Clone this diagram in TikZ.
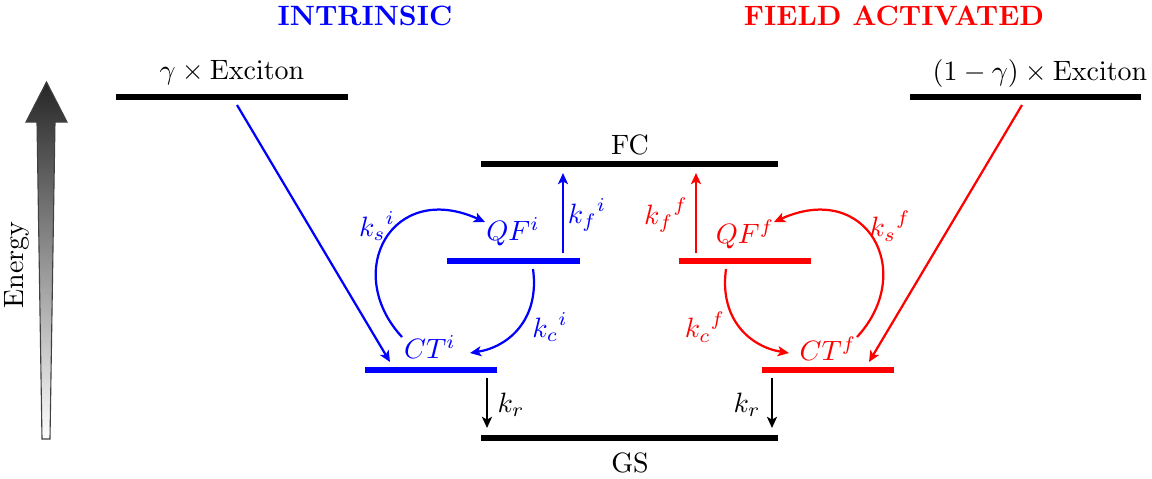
\documentclass[tikz,border=0pt]{standalone}
\usetikzlibrary{arrows.meta}
\begin{document}
\begin{tikzpicture}[x=0.3575pt,y=-0.3575pt,
  level/.style={line width=2pt},
  arr/.style={thick,-{Stealth[length=4pt,width=3.6pt,inset=1pt]}},
  lbl/.style={inner sep=0pt}]
\useasboundingbox (0,0) rectangle (1152,478);
% energy axis
\shade[top color=black!85, bottom color=white, draw=black!75, line width=0.4pt]
  (42,439) -- (50,439) -- (55,122) -- (67,122) -- (46.5,82) -- (26,122) -- (37,122) -- cycle;
\node[rotate=90] (energy) at (17,265) {Energy};
% titles
\node[text=blue, font=\bfseries] (intr) at (365,16) {INTRINSIC};
\node[text=red, font=\bfseries] (field) at (894,16) {FIELD ACTIVATED};
% levels
\coordinate (exLa) at (116,97); \coordinate (exLb) at (348,97);
\coordinate (exRa) at (910,97); \coordinate (exRb) at (1141,97);
\coordinate (fca) at (481,164); \coordinate (fcb) at (778,164);
\coordinate (gsa) at (481,438); \coordinate (gsb) at (778,438);
\coordinate (qfia) at (447,261); \coordinate (qfib) at (580,261);
\coordinate (ctia) at (365,370); \coordinate (ctib) at (497,370);
\coordinate (qffa) at (679,261); \coordinate (qffb) at (811,261);
\coordinate (ctfa) at (762,370); \coordinate (ctfb) at (894,370);
\draw[level] (exLa) -- (exLb);
\draw[level] (exRa) -- (exRb);
\draw[level] (fca) -- (fcb);
\draw[level] (gsa) -- (gsb);
\draw[level, blue] (qfia) -- (qfib);
\draw[level, blue] (ctia) -- (ctib);
\draw[level, red] (qffa) -- (qffb);
\draw[level, red] (ctfa) -- (ctfb);
% level labels
\node (exL) at (232,73) {$\gamma \times \mathrm{Exciton}$};
\node (exR) at (1040,73) {$(1-\gamma) \times \mathrm{Exciton}$};
\node (fc) at (630,145) {FC};
\node (gs) at (630,463) {GS};
\node[text=blue] (qfi) at (513,232) {$QF^i$};
\node[text=blue] (cti) at (430,347) {$CT^i$};
\node[text=red] (qff) at (745,234) {$QF^f$};
\node[text=red] (ctf) at (828,349) {$CT^f$};
% rate labels
\node[text=blue] (ksi) at (377,226) {${k_s}^i$};
\node[text=blue] (kfi) at (587,215) {${k_f}^i$};
\node[text=blue] (kci) at (550,327) {${k_c}^i$};
\node[text=red] (ksf) at (890,226) {${k_s}^f$};
\node[text=red] (kff) at (666,215) {${k_f}^f$};
\node[text=red] (kcf) at (705,327) {${k_c}^f$};
\node (krl) at (511,405) {$k_r$};
\node (krr) at (747,405) {$k_r$};
% connector end points
\coordinate (bA) at (237,105); \coordinate (bB) at (390,362);
\coordinate (rA) at (1022,105); \coordinate (rB) at (869,362);
\coordinate (kfiA) at (563,253); \coordinate (kfiB) at (563,173);
\coordinate (kffA) at (696,253); \coordinate (kffB) at (696,173);
\coordinate (ksiA) at (402,337); \coordinate (ksiB) at (485,222);
\coordinate (kciA) at (533,269); \coordinate (kciB) at (470,353);
\coordinate (ksfA) at (857,337); \coordinate (ksfB) at (774,222);
\coordinate (kcfA) at (726,269); \coordinate (kcfB) at (789,353);
\coordinate (krlA) at (487,378); \coordinate (krlB) at (487,428);
\coordinate (krrA) at (772,378); \coordinate (krrB) at (772,428);
% connectors
\draw[arr, blue] (bA) -- (bB);
\draw[arr, red] (rA) -- (rB);
\draw[arr, blue] (kfiA) -- (kfiB);
\draw[arr, red] (kffA) -- (kffB);
\draw[arr, blue] (ksiA) .. controls (342,272) and (392,180) .. (ksiB);
\draw[arr, blue] (kciA) .. controls (540,320) and (508,347) .. (kciB);
\draw[arr, red] (ksfA) .. controls (917,272) and (867,180) .. (ksfB);
\draw[arr, red] (kcfA) .. controls (719,320) and (751,347) .. (kcfB);
\draw[arr] (krlA) -- (krlB);
\draw[arr] (krrA) -- (krrB);
\end{tikzpicture}
\end{document}
